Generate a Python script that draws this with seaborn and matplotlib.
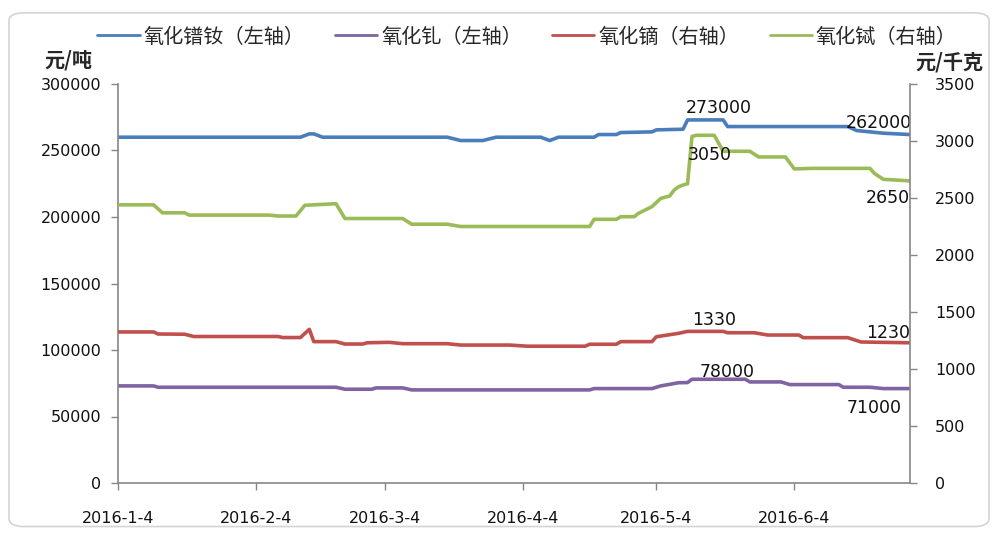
import pandas as pd
import matplotlib
matplotlib.use('Agg')
import matplotlib.pyplot as plt
import seaborn as sns
from matplotlib.patches import FancyBboxPatch
from matplotlib.lines import Line2D

# ---------------- data ----------------
prnd_dates = ['2016-01-04', '2016-02-14', '2016-02-16', '2016-02-17', '2016-02-19', '2016-03-18',
              '2016-03-21', '2016-03-26', '2016-03-29', '2016-04-08', '2016-04-10', '2016-04-12',
              '2016-04-20', '2016-04-21', '2016-04-25', '2016-04-26', '2016-05-03', '2016-05-04',
              '2016-05-10', '2016-05-11', '2016-05-19', '2016-05-20', '2016-06-16', '2016-06-18',
              '2016-06-21', '2016-06-24', '2016-06-30']
prnd_vals = [260000, 260000, 262500, 262500, 260000, 260000,
             257500, 257500, 260000, 260000, 257500, 260000,
             260000, 262000, 262000, 263500, 264000, 265500,
             266000, 273000, 273000, 268000, 268000, 265000,
             264000, 263000, 262000]

gd_dates = ['2016-01-04', '2016-01-12', '2016-01-13', '2016-02-22', '2016-02-24', '2016-03-01',
            '2016-03-02', '2016-03-08', '2016-03-10', '2016-04-19', '2016-04-20', '2016-05-03',
            '2016-05-05', '2016-05-09', '2016-05-11', '2016-05-12', '2016-05-24', '2016-05-25',
            '2016-06-01', '2016-06-03', '2016-06-14', '2016-06-15', '2016-06-21', '2016-06-24',
            '2016-06-30']
gd_vals = [73000, 73000, 72000, 72000, 70500, 70500,
           71500, 71500, 70000, 70000, 71000, 71000,
           73000, 75400, 75500, 78000, 78000, 76000,
           76000, 74000, 74000, 72000, 72000, 71000,
           71000]

dy_dates = ['2016-01-04', '2016-01-12', '2016-01-13', '2016-01-19', '2016-01-21', '2016-02-09',
            '2016-02-10', '2016-02-14', '2016-02-16', '2016-02-17', '2016-02-22', '2016-02-24',
            '2016-02-28', '2016-02-29', '2016-03-05', '2016-03-08', '2016-03-18', '2016-03-21',
            '2016-04-01', '2016-04-05', '2016-04-18', '2016-04-19', '2016-04-25', '2016-04-26',
            '2016-05-03', '2016-05-04', '2016-05-09', '2016-05-11', '2016-05-19', '2016-05-20',
            '2016-05-26', '2016-05-29', '2016-06-05', '2016-06-06', '2016-06-16', '2016-06-19',
            '2016-06-30']
dy_vals = [1325, 1325, 1307, 1305, 1285, 1285,
           1276, 1276, 1348, 1240, 1240, 1219,
           1219, 1230, 1234, 1222, 1222, 1210,
           1210, 1200, 1200, 1217, 1217, 1240,
           1240, 1283, 1313, 1330, 1330, 1318,
           1318, 1298, 1298, 1275, 1275, 1237,
           1230]

tb_dates = ['2016-01-04', '2016-01-12', '2016-01-14', '2016-01-19', '2016-01-20', '2016-02-07',
            '2016-02-09', '2016-02-13', '2016-02-15', '2016-02-22', '2016-02-24', '2016-03-08',
            '2016-03-10', '2016-03-18', '2016-03-21', '2016-04-19', '2016-04-20', '2016-04-25',
            '2016-04-26', '2016-04-29', '2016-04-30', '2016-05-03', '2016-05-05', '2016-05-07',
            '2016-05-08', '2016-05-09', '2016-05-10', '2016-05-11', '2016-05-12', '2016-05-13',
            '2016-05-17', '2016-05-19', '2016-05-25', '2016-05-27', '2016-06-02', '2016-06-04',
            '2016-06-08', '2016-06-21', '2016-06-22', '2016-06-24', '2016-06-30']
tb_vals = [2440, 2440, 2370, 2370, 2350, 2350,
           2342, 2342, 2436, 2450, 2320, 2320,
           2270, 2270, 2250, 2250, 2313, 2313,
           2336, 2336, 2366, 2424, 2497, 2518,
           2570, 2599, 2614, 2625, 3040, 3050,
           3050, 2910, 2910, 2860, 2860, 2755,
           2760, 2760, 2716, 2664, 2650]

series_names = ['氧化镨钕（左轴）', '氧化钆（左轴）', '氧化镝（右轴）', '氧化铽（右轴）']
colors = ['#4A7EBB', '#8064A2', '#C0504D', '#9BBB59']

x_tick_dates = ['2016-01-04', '2016-02-04', '2016-03-04', '2016-04-04', '2016-05-04', '2016-06-04']
x_tick_labels = ['2016-1-4', '2016-2-4', '2016-3-4', '2016-4-4', '2016-5-4', '2016-6-4']
left_ticks = [0, 50000, 100000, 150000, 200000, 250000, 300000]
right_ticks = [0, 500, 1000, 1500, 2000, 2500, 3000, 3500]

# (text, date, value, axis, dy_points)
labels = [('273000', '2016-05-18', 273000, 'L', 8.5),
          ('3050', '2016-05-16', 3050, 'R', -14.5),
          ('262000', '2016-06-23', 262000, 'L', 8.5),
          ('2650', '2016-06-25', 2650, 'R', -12.5),
          ('1330', '2016-05-17', 1330, 'R', 8.5),
          ('1230', '2016-06-25', 1230, 'R', 7),
          ('78000', '2016-05-20', 78000, 'L', 5),
          ('71000', '2016-06-22', 71000, 'L', -14)]

# ---------------- plot ----------------
sns.set_theme(style='white')
plt.rcParams['font.family'] = ['DejaVu Sans', 'Noto Sans CJK SC']

fig = plt.figure(figsize=(9.98, 5.34), dpi=100)
ax = fig.add_axes([118 / 998, 1 - 483 / 534, (910 - 118) / 998, (483 - 84) / 534])
ax2 = ax.twinx()
ax2.patch.set_visible(False)


def frame(d, v):
    return pd.DataFrame({'date': pd.to_datetime(d), 'value': v})


lw = 2.6
sns.lineplot(data=frame(prnd_dates, prnd_vals), x='date', y='value', ax=ax, color=colors[0],
             lw=lw, estimator=None, sort=False, legend=False)
sns.lineplot(data=frame(gd_dates, gd_vals), x='date', y='value', ax=ax, color=colors[1],
             lw=lw, estimator=None, sort=False, legend=False)
sns.lineplot(data=frame(dy_dates, dy_vals), x='date', y='value', ax=ax2, color=colors[2],
             lw=lw, estimator=None, sort=False, legend=False)
sns.lineplot(data=frame(tb_dates, tb_vals), x='date', y='value', ax=ax2, color=colors[3],
             lw=lw, estimator=None, sort=False, legend=False)

xmin, xmax = pd.Timestamp('2016-01-04'), pd.Timestamp('2016-06-30')
ax.set_xlim(xmin, xmax)
ax.set_ylim(0, 300000)
ax2.set_ylim(0, 3500)
ax.set_xticks(pd.to_datetime(x_tick_dates))
ax.set_xticklabels(x_tick_labels)
ax.set_yticks(left_ticks)
ax.set_yticklabels([str(t) for t in left_ticks])
ax2.set_yticks(right_ticks)
ax2.set_yticklabels([str(t) for t in right_ticks])
ax.set_xlabel('')
ax.set_ylabel('')
ax2.set_ylabel('')

spine_c = '#868686'
for a in (ax, ax2):
    for s in a.spines.values():
        s.set_visible(False)
ax.spines['left'].set_visible(True)
ax.spines['bottom'].set_visible(True)
ax2.spines['right'].set_visible(True)
for s in (ax.spines['left'], ax.spines['bottom'], ax2.spines['right']):
    s.set_color(spine_c)
    s.set_linewidth(1.2)

ax.tick_params(axis='y', direction='out', length=5, width=1, color=spine_c, pad=7,
               labelsize=11.5, labelcolor='#111111', left=True)
ax.tick_params(axis='x', direction='out', length=5, width=1, color=spine_c, pad=15,
               labelsize=11.5, labelcolor='#111111', bottom=True)
ax2.tick_params(axis='y', direction='out', length=5, width=1, color=spine_c, pad=13,
                labelsize=11.5, labelcolor='#111111', right=True)
ax.grid(False)
ax2.grid(False)

# data labels
for txt, d, v, which, dy in labels:
    target = ax if which == 'L' else ax2
    target.annotate(txt, xy=(pd.Timestamp(d), v), xytext=(0, dy), textcoords='offset points',
                    ha='center', va='center', fontsize=12.5, color='#111111', zorder=5)

# axis unit titles
fig.text(68 / 998, 1 - 60 / 534, '元/吨', ha='center', va='center', fontsize=14.5,
         fontweight='bold', family=['Noto Sans CJK SC', 'DejaVu Sans'])
fig.text(949 / 998, 1 - 62 / 534, '元/千克', ha='center', va='center', fontsize=14.5,
         fontweight='bold', family=['Noto Sans CJK SC', 'DejaVu Sans'])

# legend (thinner sample lines, as in the reference)
handles = [Line2D([], [], color=c, lw=2.0) for c in colors]
fig.legend(handles, series_names, loc='center', bbox_to_anchor=(527 / 998, 1 - 37 / 534),
           ncol=4, frameon=False, handlelength=2.1, handletextpad=0.2, columnspacing=1.5,
           prop={'family': ['Noto Sans CJK SC', 'DejaVu Sans'], 'size': 14.5})

# outer rounded frame
fig.patches.append(FancyBboxPatch((0.009, 0.014), 0.982, 0.962,
                                  boxstyle='round,pad=0,rounding_size=0.015',
                                  transform=fig.transFigure, fill=False,
                                  ec='#d4d4d4', lw=1.2, zorder=0))

fig.savefig('out.png', dpi=100)
